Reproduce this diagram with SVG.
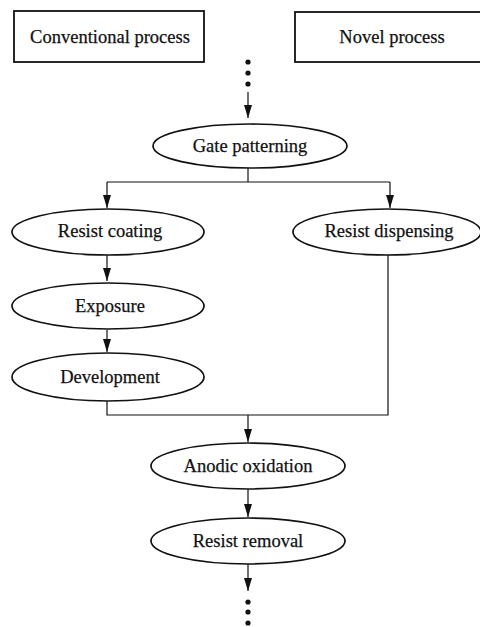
<svg xmlns="http://www.w3.org/2000/svg" width="480" height="627" viewBox="0 0 480 627">
<defs>
<style>
.n{fill:#fff;stroke:#111;stroke-width:1.7}
.b{fill:#fff;stroke:#111;stroke-width:1.8}
.t{font-family:"Liberation Serif","Times New Roman",serif;font-size:18.5px;fill:#111;stroke:#111;stroke-width:0.25;text-anchor:middle}
.c{fill:none;stroke:#111;stroke-width:1.2}
.d{fill:#111}
</style>
<marker id="ah" viewBox="0 0 13 8" refX="13" refY="4" markerWidth="13" markerHeight="8" markerUnits="userSpaceOnUse" orient="auto">
<path d="M0,0 L13,4 L0,8 Z" fill="#111"/>
</marker>
</defs>
<rect width="480" height="627" fill="#fff"/>
<g id="conventional">
<rect class="b" x="14" y="11" width="190" height="51"/>
<text class="t" x="110" y="43">Conventional process</text>
</g>
<g id="novel">
<rect class="b" x="295" y="12" width="190" height="50"/>
<text class="t" x="392" y="43">Novel process</text>
</g>
<g id="dots-top">
<circle class="d" cx="248" cy="62" r="2.6"/>
<circle class="d" cx="248" cy="73" r="2.6"/>
<circle class="d" cx="248" cy="84" r="2.6"/>
</g>
<g id="dots-bottom">
<circle class="d" cx="248" cy="602" r="2.6"/>
<circle class="d" cx="248" cy="612" r="2.6"/>
<circle class="d" cx="248" cy="623" r="2.6"/>
</g>
<g id="connectors">
<path class="c" d="M248,92 V118" marker-end="url(#ah)"/>
<path class="c" d="M248,168 V182"/>
<path class="c" d="M107,182 H390"/>
<path class="c" d="M107,182 V208" marker-end="url(#ah)"/>
<path class="c" d="M390,182 V208" marker-end="url(#ah)"/>
<path class="c" d="M107,255 V281" marker-end="url(#ah)"/>
<path class="c" d="M107,330 V352" marker-end="url(#ah)"/>
<path class="c" d="M107,401 V415 H388 V255"/>
<path class="c" d="M248,415 V442" marker-end="url(#ah)"/>
<path class="c" d="M248,489 V517" marker-end="url(#ah)"/>
<path class="c" d="M248,564 V591" marker-end="url(#ah)"/>
</g>
<g id="gate">
<ellipse class="n" cx="250" cy="146" rx="97" ry="22"/>
<text class="t" x="250" y="152">Gate  patterning</text>
</g>
<g id="coating">
<ellipse class="n" cx="108" cy="232" rx="96" ry="23"/>
<text class="t" x="110" y="237">Resist coating</text>
</g>
<g id="dispensing">
<ellipse class="n" cx="387" cy="232" rx="94" ry="23"/>
<text class="t" x="389" y="237">Resist dispensing</text>
</g>
<g id="exposure">
<ellipse class="n" cx="108" cy="306" rx="96" ry="23"/>
<text class="t" x="110" y="312">Exposure</text>
</g>
<g id="development">
<ellipse class="n" cx="108" cy="377" rx="96" ry="24"/>
<text class="t" x="110" y="383">Development</text>
</g>
<g id="anodic">
<ellipse class="n" cx="248" cy="466" rx="97" ry="23"/>
<text class="t" x="248" y="472">Anodic oxidation</text>
</g>
<g id="removal">
<ellipse class="n" cx="248" cy="541" rx="97" ry="23"/>
<text class="t" x="248" y="547">Resist removal</text>
</g>
</svg>
